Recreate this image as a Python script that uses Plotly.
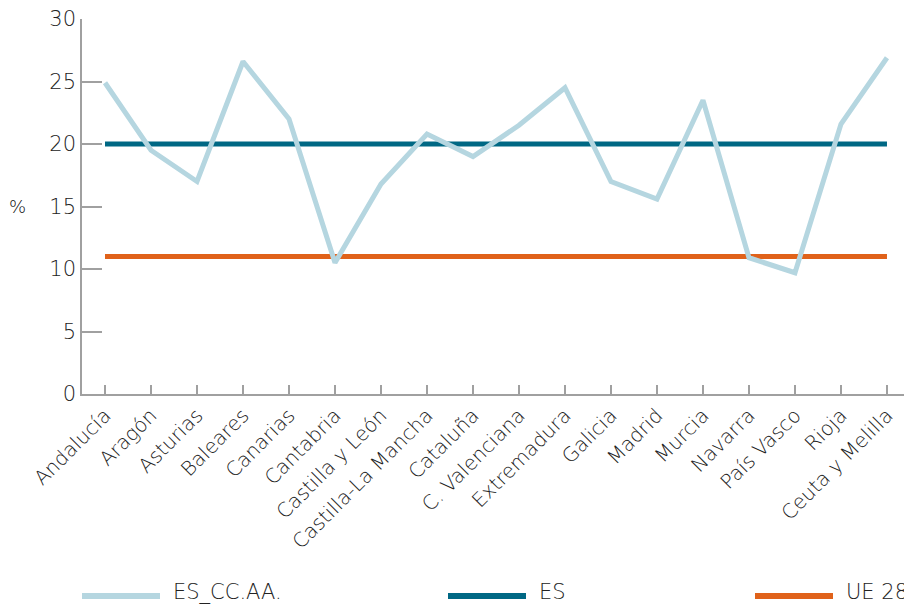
import plotly.graph_objects as go

# Comunidades autónomas
regiones = ["Andalucía", "Aragón", "Asturias", "Baleares", "Canarias", "Cantabria",
            "Castilla y León", "Castilla-La Mancha", "Cataluña", "C. Valenciana",
            "Extremadura", "Galicia", "Madrid", "Murcia", "Navarra", "País Vasco",
            "Rioja", "Ceuta y Melilla"]
es_ccaa = [24.9, 19.5, 17.0, 26.6, 22.0, 10.5, 16.8, 20.8, 19.0, 21.5,
           24.5, 17.0, 15.6, 23.5, 10.9, 9.7, 21.6, 26.9]
es = [20] * len(regiones)
ue28 = [11] * len(regiones)

c_ccaa = "#b5d6e0"
c_es = "#006884"
c_ue = "#e0621a"
txt = "#222222"
fnt = "DejaVu Sans"

x = list(range(len(regiones)))

fig = go.Figure()
fig.add_trace(go.Scatter(x=x, y=ue28, mode="lines", name="UE 28",
                         line=dict(color=c_ue, width=5)))
fig.add_trace(go.Scatter(x=x, y=es, mode="lines", name="ES",
                         line=dict(color=c_es, width=5)))
fig.add_trace(go.Scatter(x=x, y=es_ccaa, mode="lines", name="ES_CC.AA.",
                         line=dict(color=c_ccaa, width=5)))

fig.update_layout(
    width=904, height=605,
    margin=dict(l=82, r=0, t=19, b=211),
    plot_bgcolor="white", paper_bgcolor="white",
    showlegend=False,
    font=dict(family=fnt, color=txt, weight=200),
)
fig.update_xaxes(
    range=[-0.5, 17.37], tickmode="array", tickvals=x, ticktext=regiones,
    tickangle=-45, ticks="inside", ticklen=9, tickcolor="#a0a0a0", tickwidth=1.5,
    showline=True, linecolor="#a0a0a0", linewidth=1.5, showgrid=False, zeroline=False,
    tickfont=dict(size=20, color=txt, family=fnt, weight=200), automargin=False,
)
fig.update_yaxes(
    range=[0, 30], dtick=5, ticks="inside", ticklen=20, tickcolor="#a0a0a0", tickwidth=1.5,
    showline=True, linecolor="#a0a0a0", linewidth=1.5, showgrid=False, zeroline=False,
    tickfont=dict(size=21, color=txt, family=fnt, weight=200), automargin=False,
)

# "%" axis label
fig.add_annotation(x=(17 - 82) / 822, y=(394 - 206) / 375, xref="paper", yref="paper",
                   text="%", showarrow=False, xanchor="center", yanchor="middle",
                   font=dict(size=18, color="#111", family=fnt))

# legend drawn by hand
legend = [("ES_CC.AA.", c_ccaa, 82), ("ES", c_es, 448), ("UE 28", c_ue, 755)]
for name, col, px0 in legend:
    x0 = (px0 - 82) / 822
    x1 = (px0 + 78 - 82) / 822
    ly = (394 - 596) / 375
    fig.add_shape(type="line", xref="paper", yref="paper", x0=x0, x1=x1, y0=ly, y1=ly,
                  line=dict(color=col, width=6))
    fig.add_annotation(x=(px0 + 89 - 82) / 822, y=(394 - 592) / 375, xref="paper", yref="paper",
                       text=name, showarrow=False, xanchor="left", yanchor="middle",
                       font=dict(size=21, color=txt, family=fnt, weight=200))

fig.write_html("out.html", config={"displayModeBar": False},
               post_script="document.body.style.margin='0';")
